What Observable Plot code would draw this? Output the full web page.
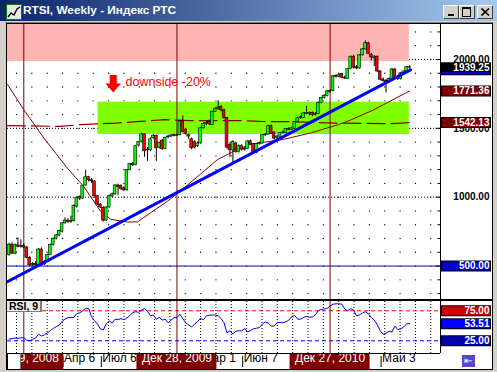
<!DOCTYPE html>
<html><head><meta charset="utf-8">
<script src="https://cdn.jsdelivr.net/npm/d3@7"></script>
<script src="https://cdn.jsdelivr.net/npm/@observablehq/plot@0.6"></script>
<style>
html,body{margin:0;padding:0;background:#d4d0c8;}
#win{position:relative;width:497px;height:372px;background:#d4d0c8;overflow:hidden;font-family:"Liberation Sans",Arial,sans-serif;}
#win div{position:absolute;}
#title{left:0;top:0;width:497px;height:21px;background:linear-gradient(to right,#0a246a,#a6caf0);}
#ttext{left:23px;top:2px;color:#fff;font-weight:bold;font-size:11.8px;line-height:17px;white-space:nowrap;}
.btn{top:5px;width:14px;height:12px;background:#d4d0c8;border-top:1px solid #fff;border-left:1px solid #fff;border-right:1px solid #404040;border-bottom:1px solid #404040;}
.blk{background:#000;}
#rsilabel{left:7px;top:301px;width:31px;height:10px;background:#ececec;border-right:2px solid #808080;border-bottom:1px solid #808080;font-weight:bold;font-size:10.5px;line-height:11px;padding-left:2px;color:#000;}
#scrollbox{left:7px;top:353px;width:12px;height:15px;background:#fff;border-left:1px solid #000;border-top:1px solid #000;border-right:1px solid #808080;}
#shiftbtn{left:462px;top:355px;width:13px;height:12px;background:#5846c8;color:#fff;font-size:10px;line-height:12px;text-align:center;font-family:"DejaVu Sans",sans-serif;}
</style></head>
<body>
<div id="win">
  <div id="title">
    <svg style="position:absolute;left:6px;top:4px" width="16" height="16">
      <rect x="0.5" y="0.5" width="15" height="15" fill="#e8e8e8" stroke="#008000"/>
      <polyline points="2,13 5,9 8,11 11,5 14,3" fill="none" stroke="#000" stroke-width="1.3"/>
    </svg>
    <div id="ttext">RTSI, Weekly - Индекс РТС</div>
    <div class="btn" style="left:443px;"><div class="blk" style="left:4px;top:8px;width:6px;height:2px;"></div></div>
    <div class="btn" style="left:459px;"><div style="left:2px;top:1px;width:7px;height:7px;border:1px solid #000;border-top-width:2px;"></div></div>
    <div class="btn" style="left:477px;"><svg style="position:absolute;left:3px;top:2px" width="9" height="8"><path d="M0.5,0.5L8,7.5M8,0.5L0.5,7.5" stroke="#000" stroke-width="1.6"/></svg></div>
  </div>
  <div class="blk" style="left:5px;top:22px;width:488px;height:1px;background:#808080"></div>
  <div id="main" style="left:7px;top:24px;"></div>
  <div id="rsi" style="left:7px;top:301px;"></div>
  <div class="blk" style="left:6px;top:23px;width:487px;height:1px;"></div>
  <div class="blk" style="left:6px;top:23px;width:1px;height:347px;"></div>
  <div class="blk" style="left:492px;top:23px;width:1px;height:347px;"></div>
  <div class="blk" style="left:6px;top:369px;width:487px;height:1px;"></div>
  <div class="blk" style="left:7px;top:299px;width:485px;height:2px;"></div>
  <div class="blk" style="left:440px;top:24px;width:1px;height:329px;"></div>
  <div class="blk" style="left:7px;top:353px;width:433px;height:1px;"></div>
  <div id="rsilabel">RSI, 9</div>
  <div id="scrollbox"></div>
  <div id="shiftbtn">⇤</div>
</div>
<script>
// ---------- DATA (weekly bars; week 0 = Dec 29, 2008) ----------
const firstWeek = -5;
const openPrices = [
  580,655,590,650,640,646,635,560,505,516,
  506,620,512,530,580,652,698,722,750,810,
  830,820,826,932,1000,990,1085,1145,1125,1115,
  1007,947,922,830,925,1007,1020,1085,1080,1065,
  1050,1196,1240,1232,1375,1400,1456,1345,1340,1430,
  1445,1360,1410,1350,1435,1440,1450,1445,1450,1550,
  1490,1450,1420,1400,1370,1390,1500,1530,1545,1525,
  1620,1640,1655,1630,1575,1380,1340,1390,1330,1370,
  1345,1350,1405,1385,1320,1385,1390,1450,1455,1515,
  1470,1430,1440,1465,1465,1495,1490,1495,1545,1575,
  1575,1605,1605,1612,1598,1605,1683,1719,1735,1765,
  1770,1880,1875,1895,1868,1860,1930,2020,1945,1935,
  2030,2073,2118,2035,2010,2020,1913,1855,1845,1835,
  1860,1927,1865,1858,1900,1913,1944];
const highPrices = [
  665,668,660,705,690,660,642,570,526,532,
  626,632,540,586,660,705,730,760,815,850,
  842,862,945,1000,1010,1085,1195,1152,1136,1120,
  1012,955,930,930,1015,1030,1090,1095,1090,1075,
  1200,1245,1250,1375,1405,1465,1460,1360,1430,1455,
  1450,1400,1420,1435,1450,1455,1458,1458,1560,1590,
  1500,1460,1430,1410,1400,1505,1540,1550,1560,1625,
  1650,1700,1665,1640,1580,1395,1410,1400,1380,1380,
  1365,1410,1415,1390,1390,1400,1455,1462,1520,1525,
  1475,1450,1470,1480,1500,1505,1508,1550,1580,1590,
  1612,1660,1620,1618,1615,1690,1725,1745,1775,1780,
  1885,1890,1895,1900,1880,1935,2025,2030,1955,2035,
  2080,2135,2125,2045,2030,2025,1920,1865,1855,1865,
  1935,1935,1875,1905,1918,1950,1955];
const lowPrices = [
  572,585,582,632,630,628,552,495,496,500,
  500,500,505,524,575,645,690,715,740,805,
  810,810,820,920,975,985,1080,1110,1100,1000,
  940,918,820,825,920,995,1015,1010,1050,1040,
  1045,1190,1222,1228,1365,1395,1290,1260,1330,1420,
  1260,1350,1340,1345,1425,1432,1438,1440,1445,1470,
  1450,1420,1345,1350,1360,1385,1495,1520,1520,1520,
  1615,1630,1620,1565,1350,1290,1240,1320,1320,1335,
  1335,1345,1375,1310,1315,1378,1385,1440,1450,1455,
  1415,1420,1435,1458,1460,1482,1485,1490,1540,1565,
  1570,1598,1590,1585,1590,1600,1678,1712,1728,1755,
  1765,1865,1868,1860,1855,1855,1925,1930,1925,1930,
  2025,2068,2035,1990,1950,1905,1845,1835,1756,1830,
  1850,1852,1848,1850,1890,1905,1930];
const closePrices = [
  655,590,650,640,646,635,560,505,516,506,
  620,512,530,580,652,698,722,755,810,830,
  820,826,935,995,990,1080,1145,1125,1115,1007,
  947,925,830,925,1007,1020,1085,1075,1058,1050,
  1196,1240,1232,1370,1400,1456,1333,1340,1420,1445,
  1355,1395,1350,1430,1440,1448,1445,1450,1550,1475,
  1460,1440,1355,1360,1390,1500,1530,1540,1530,1620,
  1640,1650,1630,1575,1360,1340,1400,1330,1370,1345,
  1352,1405,1385,1320,1385,1392,1450,1455,1515,1460,
  1425,1440,1465,1470,1495,1490,1500,1545,1572,1580,
  1608,1612,1612,1598,1605,1683,1719,1735,1768,1770,
  1877,1875,1885,1868,1862,1930,2020,1940,1935,2030,
  2073,2118,2040,2015,2015,1913,1853,1845,1835,1860,
  1927,1860,1858,1900,1913,1944,1939.25];
const rsiValues = [
  28,28.5,29.5,29,30,30,26,25,27.5,29.5,
  36,33,35,38,42,45.5,48.5,51,57,61.5,
  63.5,64,64,70.5,71.5,75,79,79,65,58.5,
  53,45,43,53.5,58,54.5,61,60.5,62,60,
  63,67,72,73.5,72.5,76,79,74,67,68,
  61,64,59.5,61,55,59.5,63.5,63.5,69,62,
  55,51.5,48,53,57,62.5,60,66.5,67.5,68,
  68,66.7,62,55,38,42,36,41,41.7,41.7,
  45.5,40,42,45,46,47,53,56.5,54.4,49.5,
  49.5,55,55.5,55,56.5,59.5,65.5,67,61,61,
  64,65.5,64.4,64.8,68,75.5,77,78,79,83,
  86,86.7,86.7,86,78,75,78.5,76,66.7,68.3,
  71.5,73.5,70,64,59.5,52,42,36,37.5,41,
  39.5,49.5,43.5,45,48,53.5,53.51];
// moving averages (week, value)
const maWeeks  = [-5.53,-0.1,6.79,14.74,20.27,26.04,29.44,35.21,38.61,43.02,48.8,51.85,59.98,65.77,71.2,76.97,88.2,97.35,106.86,110.93,118.4,122.14,131];
const maValues = [1819,1638,1430,1212,1080,899,840,819,821,886,971,1022,1167,1273,1333,1384,1420,1466,1527,1560,1630,1672,1771.36];
const longMaWeeks  = [-5.53,12.46,19.25,31.14,39.63,48.12,56.6,73.58,80.37,90.56,105.84,124.52,131];
const longMaValues = [1520,1514,1527,1538,1550,1563,1556,1556,1550,1548,1538,1534,1542.13];
// trend line
const trendWeeks = [-5.53, 131.3];
const trendValues = [386, 1925];
// zones
const zoneFrom = [-5.535, 25.2];
const zoneTo   = [130.9, 130.9];
const zoneLow  = [1985, 1455];
const zoneHigh = [2254, 1690];
const zoneColors = ["#ffb4b4", "#80ff00"];
// vertical markers & time labels
const markerWeeks  = [0, 52, 104];
const markerLabels = ["Дек 29, 2008", "Дек 28, 2009", "Дек 27, 2010"];
const timeWeeks  = [14, 27, 61, 75, 122];
const timeLabels = ["Апр 6", "Июл 6", "Мар 1", "Июн 7", "Май 3"];
// price scale labels and boxes
const axisLabelValues = [2000, 1500, 1000];
const priceBoxValues = [1925, 1939.25, 1771.36, 1542.13, 500];
const priceBoxShown  = [false, true, true, true, true];
const priceBoxColors = ["#0000ff", "#000000", "#800000", "#800000", "#0000cc"];
const rsiBoxValues = [75, 53.51, 25];
const rsiBoxColors = ["#cc0000", "#0000ff", "#0000aa"];
const annotation = [{week: 34.53, value: 1840, label: "downside -20%", arrowWeek: 30.37, arrowValue: 1825.6}];

// ---------- BUILD ----------
const candles = closePrices.map((c, k) => ({week: firstWeek + k, open: openPrices[k], high: highPrices[k], low: lowPrices[k], close: c}));
const rsiData = rsiValues.map((v, k) => ({week: firstWeek + k, value: v}));
const ma = maWeeks.map((w, k) => ({week: w, value: maValues[k]}));
const longMa = longMaWeeks.map((w, k) => ({week: w, value: longMaValues[k]}));
const trend = trendWeeks.map((w, k) => ({week: w, value: trendValues[k]}));
const zones = zoneFrom.map((f, k) => ({from: f, to: zoneTo[k], low: zoneLow[k], high: zoneHigh[k], color: zoneColors[k]}));
const markers = markerWeeks.map((w, k) => ({week: w, label: markerLabels[k]}));
const times = timeWeeks.map((w, k) => ({week: w, label: timeLabels[k]}));
const priceBoxes = priceBoxValues.map((v, k) => ({value: v, shown: priceBoxShown[k], color: priceBoxColors[k]}));
const rsiBoxes = rsiBoxValues.map((v, k) => ({value: v, color: rsiBoxColors[k]}));

const xDomain = [-5.535, 141.49];
const pxW = (xDomain[1] - xDomain[0]) / 433; // week units per pixel
const gridCols = d3.range(-2.48, 141, 5.21);
const gridRows = d3.range(300, 2300, 100);
const lattice = gridRows.flatMap(r => gridCols.map(c => ({week: c, value: r})));
const font = "Liberation Sans, Arial, sans-serif";

const arrowSymbol = {draw(ctx) {
  ctx.moveTo(-3.5, -8.5); ctx.lineTo(3.5, -8.5); ctx.lineTo(3.5, 0); ctx.lineTo(7.7, 0);
  ctx.lineTo(0, 9); ctx.lineTo(-7.7, 0); ctx.lineTo(-3.5, 0); ctx.closePath();
}};

const boxX1 = xDomain[1] + 1 * pxW, boxX2 = xDomain[1] + 51 * pxW;

const mainChart = Plot.plot({
  width: 485, height: 275,
  marginTop: 0, marginBottom: 0, marginLeft: 0, marginRight: 52,
  x: {domain: xDomain, axis: null},
  y: {domain: [257, 2254], axis: null},
  style: {background: "white", overflow: "hidden", fontFamily: font},
  marks: [
    Plot.dot(lattice, {x: "week", y: "value", r: 0.65, fill: "#000", stroke: null}),
    Plot.ruleY(axisLabelValues, {stroke: "#000", strokeDasharray: "1,2"}),
    Plot.rect(zones, {x1: "from", x2: "to", y1: "low", y2: "high", fill: "color"}),
    Plot.ruleX(markers, {x: "week", stroke: "#800000"}),
    Plot.ruleY([500], {stroke: "#0000cc"}),
    Plot.line(ma, {x: "week", y: "value", stroke: "#8b0000", strokeWidth: 1}),
    Plot.line(longMa, {x: "week", y: "value", stroke: "#8b0000", strokeWidth: 1.2, strokeDasharray: "18,6"}),
    Plot.ruleX(candles, {x: "week", y1: "low", y2: "high", stroke: "#000"}),
    Plot.rect(candles, {x1: d => d.week - 0.47, x2: d => d.week + 0.47, y1: "open", y2: "close",
      fill: d => d.close >= d.open ? "#00ff00" : "#ff0000", stroke: "#000", strokeWidth: 0.6}),
    Plot.line(trend, {x: "week", y: "value", stroke: "#0000ff", strokeWidth: 3}),
    Plot.dot(annotation, {x: "arrowWeek", y: "arrowValue", symbol: arrowSymbol, fill: "#ff0000", stroke: null}),
    Plot.text(annotation, {x: "week", y: "value", text: "label", textAnchor: "start", fill: "#ff0000", fontSize: 12.5}),
    // right price panel
    Plot.ruleY(gridRows.filter(v => v % 500 !== 0), {x1: xDomain[1] - 2.5 * pxW, x2: xDomain[1], stroke: "#000"}),
    Plot.ruleY(gridRows.filter(v => v % 500 === 0), {x1: xDomain[1] - 4.5 * pxW, x2: xDomain[1], stroke: "#000"}),
    Plot.text(axisLabelValues, {y: d => d, text: d => d.toFixed(2), frameAnchor: "right", dx: 49, textAnchor: "end", fontWeight: "bold", fontSize: 10, fill: "#000"}),
    Plot.ruleY(priceBoxes, {y: "value", x1: boxX1, x2: boxX2, stroke: "#000", strokeWidth: 11}),
    Plot.ruleY(priceBoxes, {y: "value", x1: boxX1 + pxW, x2: boxX2 - pxW, stroke: "color", strokeWidth: 9}),
    Plot.text(priceBoxes.filter(d => d.shown), {y: "value", text: d => d.value.toFixed(2), frameAnchor: "right", dx: 49, textAnchor: "end", fontWeight: "bold", fontSize: 10, fill: "#fff"})
  ]
});
document.getElementById("main").append(mainChart);

const rsiChart = Plot.plot({
  width: 485, height: 68,
  marginTop: 0, marginBottom: 16, marginLeft: 0, marginRight: 52,
  x: {domain: xDomain, axis: null},
  y: {domain: [0, 100], range: [54.3, -5.7], axis: null},
  style: {background: "white", overflow: "hidden", fontFamily: font},
  marks: [
    Plot.ruleX(gridCols, {stroke: "#000", strokeDasharray: "1,2"}),
    Plot.ruleY([75], {stroke: "#ff0000", strokeDasharray: "4,3"}),
    Plot.ruleY([25], {stroke: "#0000ff", strokeDasharray: "4,3"}),
    Plot.ruleX(markers, {x: "week", stroke: "#800000"}),
    Plot.line(rsiData, {x: "week", y: "value", stroke: "#0000ff", strokeWidth: 1}),
    // time axis
    Plot.ruleX(times, {x: "week", dx: -2, y1: -1.2, y2: -19.5, stroke: "#000"}),
    Plot.text(times, {x: "week", text: "label", frameAnchor: "bottom", dy: 8.5, dx: -1, textAnchor: "start", fontSize: 12, fill: "#000"}),
    Plot.rect(markers, {x1: d => d.week - 40 * pxW, x2: d => d.week + 40 * pxW, y1: -22.8, y2: 3.83, fill: "#800000"}),
    Plot.text(markers, {x: "week", text: "label", frameAnchor: "bottom", dy: 8.5, fontSize: 12, fill: "#fff"}),
    // right labels
    Plot.ruleY(rsiBoxes, {y: "value", x1: boxX1, x2: boxX2, stroke: "#000", strokeWidth: 11}),
    Plot.ruleY(rsiBoxes, {y: "value", x1: boxX1 + pxW, x2: boxX2 - pxW, stroke: "color", strokeWidth: 9}),
    Plot.text(rsiBoxes, {y: "value", text: d => d.value.toFixed(2), frameAnchor: "right", dx: 49, textAnchor: "end", fontWeight: "bold", fontSize: 10, fill: "#fff"})
  ]
});
document.getElementById("rsi").append(rsiChart);
</script>
</body></html>
